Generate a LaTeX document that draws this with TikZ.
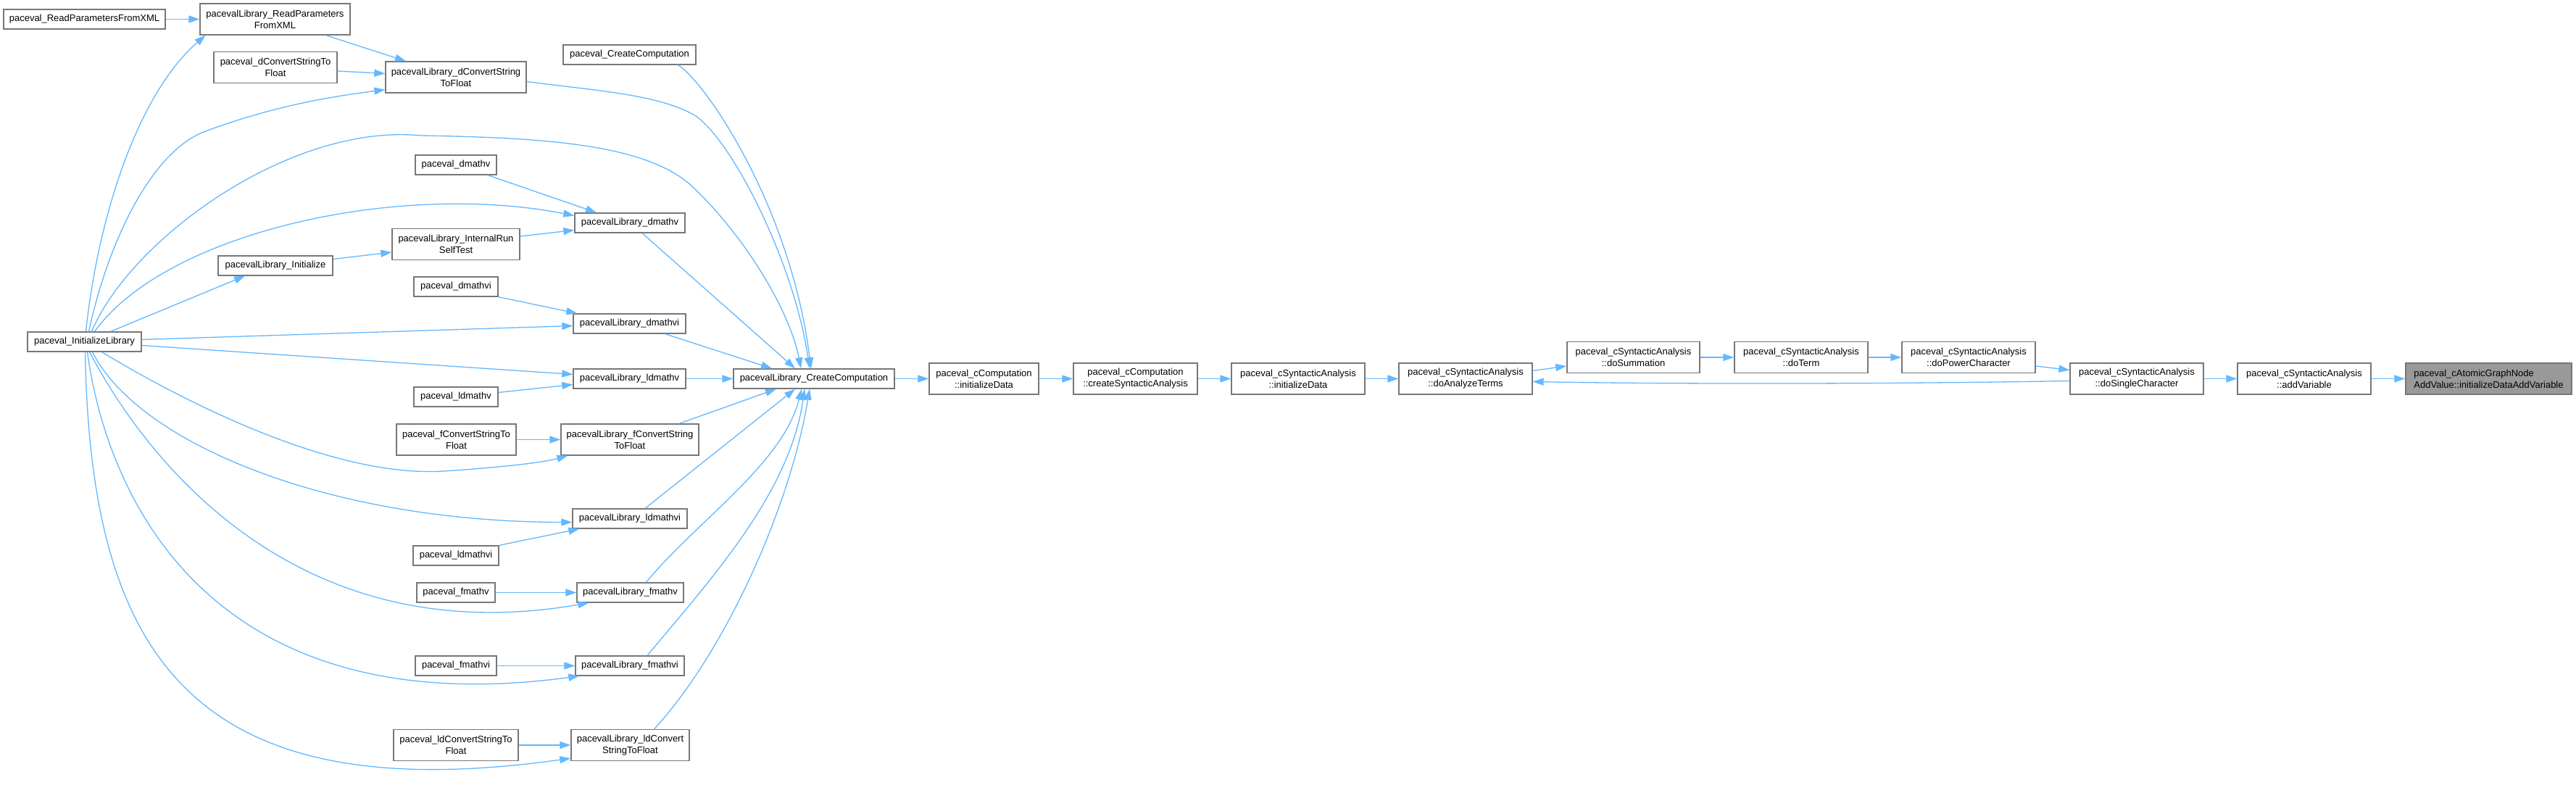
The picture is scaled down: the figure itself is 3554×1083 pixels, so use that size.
\documentclass[tikz,border=0pt]{standalone}
\usepackage{fontspec}
\setmainfont{Liberation Sans}
\usetikzlibrary{arrows.meta,calc}
\definecolor{edgeblue}{HTML}{63B8FF}
\definecolor{nodeborder}{HTML}{777777}
\definecolor{targetfill}{HTML}{999999}
\begin{document}
\begin{tikzpicture}[x=1pt,y=-1pt,
 fn/.style={draw=nodeborder, line width=1.3pt, fill=white, inner sep=0pt, align=center, font=\fontsize{13}{16}\selectfont, minimum height=27pt},
 fntwo/.style={fn, minimum height=43pt},
 call/.style={draw=edgeblue, line width=1.3pt, -{Triangle[length=15pt,width=10pt]}}
]
\path[use as bounding box, fill=white] (0,0) rectangle (3554,1083);

\node[fn, minimum width=223pt] (pRPX) at (116.5,26.5) {paceval\_ReadParametersFromXML};
\node[fntwo, minimum width=207pt] (lRPX) at (379.5,26.5) {pacevalLibrary\_ReadParameters\\FromXML};
\node[fntwo, minimum width=170pt] (pdCS) at (380,93) {paceval\_dConvertStringTo\\Float};
\node[fntwo, minimum width=194pt] (ldCS) at (629,106.5) {pacevalLibrary\_dConvertString\\ToFloat};
\node[fn, minimum width=183pt] (pCC) at (868.5,75.5) {paceval\_CreateComputation};
\node[fn, minimum width=112pt] (pdv) at (629,227.5) {paceval\_dmathv};
\node[fn, minimum width=152pt] (ldv) at (869,307.5) {pacevalLibrary\_dmathv};
\node[fntwo, minimum width=176pt] (lIRST) at (629,337) {pacevalLibrary\_InternalRun\\SelfTest};
\node[fn, minimum width=158pt] (lInit) at (380,366.5) {pacevalLibrary\_Initialize};
\node[fn, minimum width=116pt] (pdvi) at (629,395.5) {paceval\_dmathvi};
\node[fn, minimum width=155pt] (ldvi) at (868.5,446.5) {pacevalLibrary\_dmathvi};
\node[fn, minimum width=157pt] (pIL) at (116.5,471.5) {paceval\_InitializeLibrary};
\node[fn, minimum width=155pt] (lldv) at (868.5,522.5) {pacevalLibrary\_ldmathv};
\node[fn, minimum width=116pt] (pldv) at (629,547.5) {paceval\_ldmathv};
\node[fntwo, minimum width=165pt] (pfCS) at (629.5,606.5) {paceval\_fConvertStringTo\\Float};
\node[fntwo, minimum width=190pt] (lfCS) at (869,606.5) {pacevalLibrary\_fConvertString\\ToFloat};
\node[fn, minimum width=158pt] (lldvi) at (869,715.5) {pacevalLibrary\_ldmathvi};
\node[fn, minimum width=118pt] (pldvi) at (629,766.5) {paceval\_ldmathvi};
\node[fn, minimum width=108pt] (pfv) at (629,817.5) {paceval\_fmathv};
\node[fn, minimum width=147pt] (lfv) at (869.5,817.5) {pacevalLibrary\_fmathv};
\node[fn, minimum width=112pt] (pfvi) at (629,918.5) {paceval\_fmathvi};
\node[fn, minimum width=150pt] (lfvi) at (869,918.5) {pacevalLibrary\_fmathvi};
\node[fntwo, minimum width=172pt] (pldCS) at (629,1028) {paceval\_ldConvertStringTo\\Float};
\node[fntwo, minimum width=163pt] (lldCS) at (869.5,1028) {pacevalLibrary\_ldConvert\\StringToFloat};
\node[fn, minimum width=222pt] (lCC) at (1123,522.5) {pacevalLibrary\_CreateComputation};
\node[fntwo, minimum width=151pt] (cCinit) at (1357.5,522.5) {paceval\_cComputation\\::initializeData};
\node[fntwo, minimum width=171pt] (cCcsa) at (1566.5,522.5) {paceval\_cComputation\\::createSyntacticAnalysis};
\node[fntwo, minimum width=184pt] (sAinit) at (1791,522.5) {paceval\_cSyntacticAnalysis\\::initializeData};
\node[fntwo, minimum width=184pt] (sAdat) at (2022,522.5) {paceval\_cSyntacticAnalysis\\::doAnalyzeTerms};
\node[fntwo, minimum width=183pt] (sAsum) at (2253.5,493) {paceval\_cSyntacticAnalysis\\::doSummation};
\node[fntwo, minimum width=184pt] (sAterm) at (2485,493) {paceval\_cSyntacticAnalysis\\::doTerm};
\node[fntwo, minimum width=184pt] (sApow) at (2716,493) {paceval\_cSyntacticAnalysis\\::doPowerCharacter};
\node[fntwo, minimum width=184pt] (sAsingle) at (2948,522.5) {paceval\_cSyntacticAnalysis\\::doSingleCharacter};
\node[fntwo, minimum width=184pt] (sAadd) at (3179,522.5) {paceval\_cSyntacticAnalysis\\::addVariable};
\node[fntwo, minimum width=229pt, fill=targetfill, align=left] (cAGN) at (3433.5,522.5) {paceval\_cAtomicGraphNode\\AddValue::initializeDataAddVariable};

% left cluster
\draw[call] (pRPX.east) -- (lRPX.west);
\draw[call] ($(lRPX.south)+(70,0)$) -- ($(ldCS.north)+(-69,0)$);
\draw[call] ($(pdCS.east)+(0,5)$) -- ($(ldCS.west)+(0,-5)$);
\draw[call] ($(pIL.north)+(2,0)$) .. controls (135,300) and (190,130) .. ($(lRPX.south)+(-96,0)$);
\draw[call] ($(pIL.north)+(6,0)$) .. controls (150,330) and (210,210) .. (281,182) .. controls (380,145) and (460,133) .. ($(ldCS.south west)+(0,-5)$);
\draw[call] ($(pIL.north)+(10,0)$) .. controls (180,330) and (400,170) .. (580,187) .. controls (760,190) and (900,200) .. (960,262) .. controls (1030,330) and (1090,430) .. ($(lCC.north)+(-18,0)$);
\draw[call] ($(pIL.north)+(14,0)$) .. controls (230,320) and (550,250) .. ($(ldv.west)+(0,-10)$);
\draw[call] ($(pCC.south)+(67,0)$) .. controls (970,110) and (1090,280) .. ($(lCC.north)+(-4,0)$);
\draw[call] ($(ldCS.east)+(0,6)$) .. controls (820,125) and (910,130) .. (960,160) .. controls (1010,195) and (1095,360) .. ($(lCC.north)+(-6,0)$);
\draw[call] ($(pdv.south)+(44,0)$) -- ($(ldv.north)+(-46,0)$);
\draw[call] ($(lIRST.east)+(0,-11)$) -- ($(ldv.west)+(0,10)$);
\draw[call] ($(lInit.east)+(0,-9)$) -- ($(lIRST.west)+(0,11)$);
\draw[call] ($(pIL.north)+(36,0)$) -- ($(lInit.south)+(-42,0)$);
\draw[call] ($(ldv.south)+(17,0)$) -- ($(lCC.north)+(-26,0)$);
\draw[call] (pdvi.south east) -- ($(ldvi.north west)+(6,0)$);
\draw[call] ($(pIL.east)+(0,-3)$) -- ($(ldvi.west)+(0,3)$);
\draw[call] ($(ldvi.south)+(49,0)$) -- ($(lCC.north)+(-58,0)$);
\draw[call] ($(pIL.east)+(0,5)$) -- ($(lldv.west)+(0,-6)$);
\draw[call] ($(pldv.east)+(0,-6)$) -- ($(lldv.west)+(0,8)$);
\draw[call] (lldv.east) -- (lCC.west);
\draw[call] (pfCS.east) -- (lfCS.west);
\draw[call] ($(pIL.south)+(24,0)$) .. controls (230,540) and (450,660) .. (612,650) .. controls (690,645) and (750,638) .. ($(lfCS.south west)+(10,0)$);
\draw[call] ($(lfCS.north)+(68,0)$) -- ($(lCC.south)+(-52,0)$);
\draw[call] ($(pIL.south)+(11,0)$) .. controls (190,610) and (450,720) .. ($(lldvi.west)+(0,5)$);
\draw[call] (pldvi.north east) -- ($(lldvi.south west)+(10,0)$);
\draw[call] ($(lldvi.north)+(21,0)$) -- ($(lCC.south)+(-26,0)$);
\draw[call] (pfv.east) -- (lfv.west);
\draw[call] ($(pIL.south)+(7,0)$) .. controls (210,650) and (420,900) .. ($(lfv.south west)+(17,0)$);
\draw[call] ($(lfv.north)+(22,0)$) .. controls (960,720) and (1080,640) .. ($(lCC.south)+(-17,0)$);
\draw[call] (pfvi.east) -- (lfvi.west);
\draw[call] ($(pIL.south)+(4,0)$) .. controls (150,700) and (300,1000) .. ($(lfvi.south west)+(6,0)$);
\draw[call] ($(lfvi.north)+(24,0)$) .. controls (980,800) and (1090,680) .. ($(lCC.south)+(-13,0)$);
\draw[call] (pldCS.east) -- (lldCS.west);
\draw[call] ($(pIL.south)+(1,0)$) .. controls (125,900) and (260,1120) .. ($(lldCS.south west)+(0,-4)$);
\draw[call] ($(lldCS.north)+(33,0)$) .. controls (1000,900) and (1090,700) .. ($(lCC.south)+(-6,0)$);

% right chain
\draw[call] (lCC.east) -- (cCinit.west);
\draw[call] (cCinit.east) -- (cCcsa.west);
\draw[call] (cCcsa.east) -- (sAinit.west);
\draw[call] (sAinit.east) -- (sAdat.west);
\draw[call] ($(sAdat.east)+(0,-11)$) -- ($(sAsum.west)+(0,12)$);
\draw[call] (sAsum.east) -- (sAterm.west);
\draw[call] (sAterm.east) -- (sApow.west);
\draw[call] ($(sApow.east)+(0,12)$) -- ($(sAsingle.west)+(0,-12)$);
\draw[call] ($(sAsingle.west)+(0,3)$) .. controls (2600,530) and (2300,530) .. ($(sAdat.east)+(0,4)$);
\draw[call] (sAsingle.east) -- (sAadd.west);
\draw[call] (sAadd.east) -- (cAGN.west);
\end{tikzpicture}
\end{document}
